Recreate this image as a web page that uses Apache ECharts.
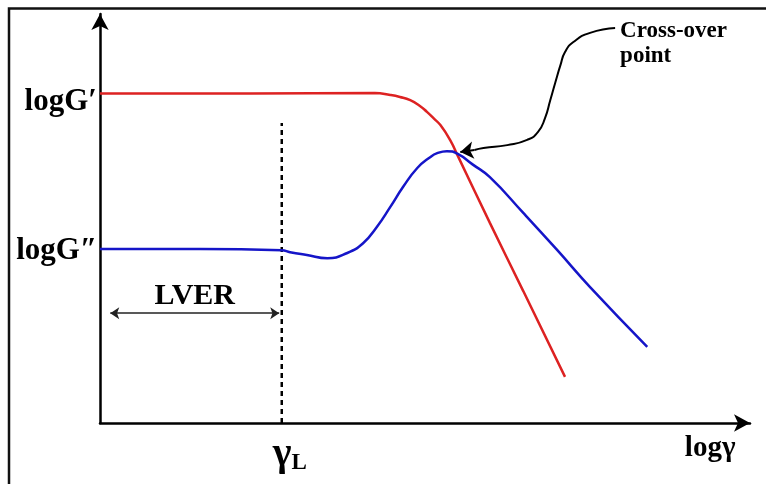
<!DOCTYPE html>
<html>
<head>
<meta charset="utf-8">
<script src="https://cdn.jsdelivr.net/npm/echarts@6/dist/echarts.min.js"></script>
<style>
  html, body { margin: 0; padding: 0; background: #fff; }
  #chart { width: 766px; height: 484px; }
</style>
</head>
<body>
<div id="chart"></div>
<script>
// Schematic amplitude sweep: log G′ and log G″ against log strain (arbitrary units)
const storageX = [0, 2.34, 4.28, 4.52, 4.67, 4.83, 4.97, 5.09, 5.20, 5.30, 5.45, 5.58, 6.07, 6.59, 7.24];
const storageY = [8.22, 8.22, 8.23, 8.18, 8.13, 8.05, 7.92, 7.76, 7.59, 7.43, 7.06, 6.63, 4.99, 3.29, 1.15];

const lossX = [0, 1.56, 2.83, 2.96, 3.22, 3.54, 3.85, 4.10, 4.31, 4.52, 4.72, 4.94, 5.14, 5.25, 5.40, 5.57, 5.80, 6.07, 6.59, 7.12, 7.63, 8.52];
const lossY = [4.34, 4.34, 4.31, 4.26, 4.19, 4.11, 4.24, 4.49, 4.89, 5.39, 5.89, 6.36, 6.63, 6.73, 6.78, 6.71, 6.45, 6.13, 5.24, 4.31, 3.39, 1.90];

// limit of the linear viscoelastic region (γL)
const limitX = 2.83;
const limitTop = 7.48;

// LVER span arrow
const lverFrom = 0.16;
const lverTo = 2.79;
const lverLevel = 2.74;

// leader from the "Cross-over point" note to the crossing
const leaderX = [8.02, 7.63, 7.37, 7.24, 7.17, 7.09, 7.01, 6.93, 6.82, 6.65, 6.34, 5.97, 5.83];
const leaderY = [9.85, 9.73, 9.50, 9.25, 8.93, 8.50, 8.05, 7.61, 7.26, 7.06, 6.93, 6.86, 6.81];
const leaderTip = [[5.83, 6.81], [5.61, 6.76]];

// axis annotations
const yLabelValues = [8.22, 4.34];
const yLabelTexts = ['{a|logG′}', '{b|logG″}'];
const xLabelValues = [2.83, 9.5];

const zip = (xs, ys) => xs.map((x, i) => [x, ys[i]]);

const SERIF = '"Liberation Serif", "Times New Roman", serif';
const RED = '#dd2222';
const BLUE = '#1515c8';

const chart = echarts.init(document.getElementById('chart'), null, { renderer: 'canvas' });

const yLabelStyle = { fontFamily: SERIF, fontWeight: 'bold', fontSize: 31, color: '#000' };

chart.setOption({
  backgroundColor: '#ffffff',
  animation: false,
  grid: { left: 100, right: 16, top: 14, bottom: 61, containLabel: false, outerBoundsMode: 'none' },
  xAxis: {
    type: 'value', min: 0, max: 10.12,
    axisLine: { show: true, symbol: ['none', 'arrow'], symbolSize: [13, 16],
      lineStyle: { color: '#000', width: 2.5 } },
    axisTick: { show: false },
    splitLine: { show: false },
    axisLabel: {
      customValues: xLabelValues,
      margin: 12,
      formatter: (v) => (Math.abs(v - xLabelValues[0]) < 1e-6 ? '{g|γ}{s|L}' : '{t|logγ}'),
      rich: {
        g: { fontFamily: SERIF, fontWeight: 'bold', fontSize: 40, color: '#000', lineHeight: 40, verticalAlign: 'bottom', padding: [0, 0, 0, 16] },
        s: { fontFamily: SERIF, fontWeight: 'bold', fontSize: 23, color: '#000', lineHeight: 16, verticalAlign: 'bottom' },
        t: { fontFamily: SERIF, fontWeight: 'bold', fontSize: 29, color: '#000', lineHeight: 28 }
      }
    }
  },
  yAxis: {
    type: 'value', min: 0, max: 10.2,
    axisLine: { show: true, symbol: ['none', 'arrow'], symbolSize: [13, 16],
      lineStyle: { color: '#000', width: 2.5 } },
    axisTick: { show: false },
    splitLine: { show: false },
    axisLabel: {
      customValues: yLabelValues,
      margin: 3,
      formatter: (v) => yLabelTexts[yLabelValues.findIndex((y) => Math.abs(y - v) < 1e-6)],
      rich: {
        a: Object.assign({ padding: [17, 0, 0, 0] }, yLabelStyle),
        b: Object.assign({ padding: [5, 0, 0, 0] }, yLabelStyle)
      }
    }
  },
  graphic: [
    { type: 'rect', silent: true, z: 100,
      shape: { x: 9, y: 8.5, width: 800, height: 520 },
      style: { fill: null, stroke: '#111', lineWidth: 2.5 } }
  ],
  series: [
    {
      name: 'G′', type: 'line', data: zip(storageX, storageY),
      smooth: 0.5, showSymbol: false, symbol: 'none',
      lineStyle: { color: RED, width: 2.5 }, z: 3
    },
    {
      name: 'G″', type: 'line', data: zip(lossX, lossY),
      smooth: 0.5, showSymbol: false, symbol: 'none',
      lineStyle: { color: BLUE, width: 2.5 }, z: 4
    },
    {
      name: 'γL', type: 'line', data: [[limitX, 0], [limitX, limitTop]],
      showSymbol: false, symbol: 'none',
      lineStyle: { color: '#000', width: 2.5, type: [5, 4] }, z: 2
    },
    {
      name: 'LVER', type: 'lines', coordinateSystem: 'cartesian2d', polyline: false,
      symbol: ['arrow', 'arrow'], symbolSize: 9,
      lineStyle: { color: '#222', width: 1.5, opacity: 1, curveness: 0 },
      label: { show: true, position: 'middle', formatter: 'LVER', distance: 2,
        fontFamily: SERIF, fontWeight: 'bold', fontSize: 30, color: '#000' },
      data: [{ coords: [[lverFrom, lverLevel], [lverTo, lverLevel]] }], z: 5
    },
    {
      name: 'leader', type: 'line', data: zip(leaderX, leaderY),
      smooth: 0.55, showSymbol: false, symbol: 'none',
      lineStyle: { color: '#000', width: 2 }, z: 6
    },
    {
      name: 'leaderTip', type: 'lines', coordinateSystem: 'cartesian2d',
      symbol: ['none', 'arrow'], symbolSize: 13,
      lineStyle: { color: '#000', width: 2, opacity: 1, curveness: 0 },
      data: [{ coords: leaderTip }], z: 6
    },
    {
      name: 'note', type: 'scatter', symbolSize: 0,
      itemStyle: { color: 'transparent', opacity: 1 },
      data: [{ value: [leaderX[0], leaderY[0]] }],
      label: { show: true, position: 'right', distance: 5, offset: [0, 16],
        formatter: 'Cross-over\npoint', align: 'left', lineHeight: 25,
        fontFamily: SERIF, fontWeight: 'bold', fontSize: 23, color: '#000', opacity: 1 },
      z: 7
    }
  ]
});
</script>
</body>
</html>
